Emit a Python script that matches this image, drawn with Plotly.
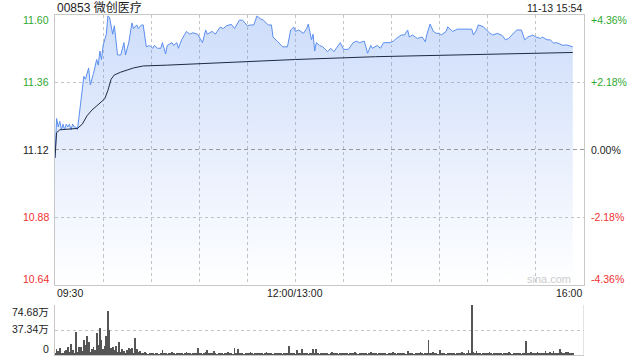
import plotly.graph_objects as go

# ---------------- data ----------------
title_text = "00853 微创医疗"
stamp_text = "11-13 15:54"

# (minute since 09:30 on the trading clock, price)
price_series = [
    (0, 11.09), (1, 11.23), (2, 11.20), (3, 11.22), (4, 11.19), (5, 11.21), (6, 11.19),
    (7, 11.21), (8, 11.20), (9, 11.21), (10, 11.19), (11, 11.21), (12, 11.20), (13, 11.20),
    (14, 11.19), (15, 11.24), (16, 11.30), (17, 11.34), (18, 11.38), (19, 11.37), (21, 11.41),
    (22, 11.35), (24, 11.39), (26, 11.44), (27, 11.42), (28, 11.47), (29, 11.44), (30, 11.49),
    (32, 11.53), (33, 11.595), (34, 11.59), (36, 11.53), (37, 11.56), (38, 11.51), (39, 11.456),
    (41, 11.456), (43, 11.50), (44, 11.456), (46, 11.50), (48, 11.57), (49, 11.55), (51, 11.563),
    (52, 11.55), (54, 11.563), (55, 11.563), (57, 11.485), (59, 11.49), (61, 11.48), (62, 11.49),
    (64, 11.48), (66, 11.48), (67, 11.50), (69, 11.46), (70, 11.49), (73, 11.50), (74, 11.49),
    (76, 11.50), (77, 11.48), (79, 11.51), (81, 11.53), (82, 11.54), (84, 11.53), (86, 11.535),
    (89, 11.53), (90, 11.52), (92, 11.50), (94, 11.545), (95, 11.53), (98, 11.54), (100, 11.53),
    (103, 11.555), (105, 11.55), (107, 11.56), (110, 11.565), (112, 11.55), (115, 11.58),
    (117, 11.58), (120, 11.56), (122, 11.563), (124, 11.563), (126, 11.595), (128, 11.585),
    (130, 11.58), (133, 11.563), (135, 11.563), (136, 11.52), (139, 11.503), (142, 11.485),
    (145, 11.485), (147, 11.545), (149, 11.555), (150, 11.54), (152, 11.545), (155, 11.533),
    (157, 11.55), (158, 11.566), (160, 11.51), (161, 11.53), (162, 11.47), (163, 11.50),
    (165, 11.49), (167, 11.485), (170, 11.468), (172, 11.48), (174, 11.468), (178, 11.50),
    (180, 11.476), (183, 11.476), (186, 11.50), (188, 11.505), (190, 11.50), (193, 11.505),
    (195, 11.462), (197, 11.49), (198, 11.48), (201, 11.49), (203, 11.48), (205, 11.50),
    (209, 11.50), (211, 11.505), (213, 11.515), (216, 11.527), (218, 11.527), (220, 11.545),
    (221, 11.52), (223, 11.527), (226, 11.515), (229, 11.52), (231, 11.503), (232, 11.53),
    (234, 11.566), (236, 11.54), (238, 11.533), (240, 11.533), (241, 11.527), (244, 11.54),
    (245, 11.556), (248, 11.54), (250, 11.545), (251, 11.548), (260, 11.548), (261, 11.527),
    (263, 11.545), (264, 11.563), (267, 11.557), (269, 11.545), (271, 11.535), (273, 11.527),
    (276, 11.533), (279, 11.525), (281, 11.51), (283, 11.515), (286, 11.535), (288, 11.545),
    (291, 11.545), (293, 11.51), (295, 11.52), (298, 11.527), (300, 11.52), (303, 11.515),
    (304, 11.52), (307, 11.51), (309, 11.51), (311, 11.498), (313, 11.50), (315, 11.495),
    (317, 11.49), (319, 11.492), (321, 11.488), (323, 11.485),
]

avg_series = [
    (0, 11.09), (1, 11.18), (3, 11.19), (14, 11.195), (17, 11.21), (20, 11.24), (23, 11.26),
    (27, 11.28), (31, 11.30), (33, 11.33), (35, 11.37), (37, 11.385), (41, 11.395), (49, 11.41),
    (55, 11.417), (70, 11.42), (90, 11.425), (120, 11.435), (150, 11.44), (200, 11.45),
    (240, 11.455), (280, 11.46), (323, 11.465),
]

# volume per minute (万), minute 0 .. 323
volume = [
    3, 8.5, 6, 10, 2.5, 3.5, 6, 7.5, 12.4, 4,
    16.4, 7.5, 3, 35, 5, 11.4, 12.4, 6, 23, 15,
    28, 20, 5, 8.5, 12.4, 7.5, 33, 15, 40, 23,
    8.5, 13.5, 28, 65, 38, 10, 11.4, 7.5, 13.5, 4,
    20, 5, 8.5, 6.5, 3, 7.5, 10, 8.5, 10, 3,
    25, 8.5, 5, 6, 3, 2, 4, 2, 1.5, 3,
    2, 2.5, 1.5, 3, 2, 1.5, 2, 7.5, 2, 3,
    1.5, 2.5, 2, 4, 2, 1.5, 3, 2, 2.5, 3,
    1.5, 2, 4, 2, 3, 1.5, 2, 3, 2, 10,
    2, 3, 1.5, 2, 4, 7.5, 2, 3, 2, 6,
    2, 1.5, 3, 2, 2.5, 1.5, 3, 2, 4, 2,
    3, 1.5, 10, 3, 8.5, 2, 3, 2, 1.5, 2.5,
    3, 2, 4, 2, 1.5, 3, 2, 2.5, 2, 3,
    1.5, 2, 4, 2, 3, 2, 1.5, 2.5, 3, 2,
    2, 3, 1.5, 2, 3, 2, 13.5, 2, 3, 2,
    1.5, 7.5, 3, 2, 8.5, 2, 3, 2, 1.5, 3,
    2, 8.5, 3, 8.5, 2, 1.5, 3, 2, 2.5, 2,
    3, 1.5, 2, 4, 2, 3, 2, 1.5, 2.5, 3,
    2, 2, 3, 1.5, 2, 3, 2, 4, 2, 1.5,
    3, 2, 2.5, 2, 3, 1.5, 2, 4, 2, 3,
    2, 1.5, 2.5, 3, 2, 2, 3, 1.5, 2, 3,
    2, 4, 2, 1.5, 3, 2, 2.5, 2, 3, 1.5,
    6, 2, 3, 2, 1.5, 2.5, 3, 2, 4, 2,
    1.5, 3, 2, 22, 3, 2, 4, 2, 3, 1.5,
    7.5, 2, 3, 2, 1.5, 2.5, 3, 2, 2, 3,
    1.5, 2, 3, 2, 4, 2, 1.5, 3, 7.5, 3,
    74.68, 4, 2, 6, 2, 3, 1.5, 2, 2.5, 3,
    2, 4, 2, 1.5, 3, 2, 2.5, 2, 3, 1.5,
    2, 3, 2, 4, 2, 1.5, 3, 2, 2.5, 3,
    2, 1.5, 3, 2, 21, 2, 3, 4, 2, 3,
    2, 4, 3, 2, 3, 2.5, 6, 3, 2, 4,
    2, 6, 3, 2, 3, 9, 4, 2, 3, 5,
    4.5, 3, 2, 3,
]

price_ticks = [10.64, 10.88, 11.12, 11.36, 11.60]
price_labels = ["10.64", "10.88", "11.12", "11.36", "11.60"]
pct_labels = ["-4.36%", "-2.18%", "0.00%", "+2.18%", "+4.36%"]
vol_ticks = [0, 37.34, 74.68]
vol_labels = ["0", "37.34万", "74.68万"]
session_minutes = 330
grid_minutes = [30, 60, 90, 120, 150, 180, 210, 240, 270, 300]
time_labels = ["09:30", "12:00/13:00", "16:00"]
time_minutes = [0, 150, 330]

# ---------------- figure ----------------
W, H = 640, 360
GREEN = "#2fa82f"
RED = "#f03030"
DARK = "#222222"
GRID = "#c4c4c4"
BORDER = "#c8c8c8"
FONT = "Arial, Liberation Sans, Noto Sans CJK SC, sans-serif"

px_x = [p[0] for p in price_series]
px_y = [p[1] for p in price_series]
av_x = [p[0] for p in avg_series]
av_y = [p[1] for p in avg_series]

fig = go.Figure()

# baseline for the filled area
fig.add_trace(go.Scatter(
    x=[px_x[0], px_x[-1]], y=[price_ticks[0], price_ticks[0]],
    mode="lines", line=dict(width=0), hoverinfo="skip", showlegend=False,
    xaxis="x", yaxis="y"))

# translucent gradient fill under the price line (grid shows through)
fig.add_trace(go.Scatter(
    x=px_x, y=px_y, mode="lines",
    line=dict(width=0),
    fill="tonexty",
    fillgradient=dict(type="vertical",
                      colorscale=[[0, "rgba(91,142,240,0.0)"], [1, "rgba(91,142,240,0.30)"]],
                      start=price_ticks[0], stop=price_ticks[-1]),
    hoverinfo="skip", showlegend=False, xaxis="x", yaxis="y"))

# previous close dashed line
fig.add_trace(go.Scatter(
    x=[0, session_minutes], y=[price_ticks[2], price_ticks[2]], mode="lines",
    line=dict(color="#9a9a9a", width=1, dash="4px,3px"),
    hoverinfo="skip", showlegend=False, xaxis="x", yaxis="y"))

# price line
fig.add_trace(go.Scatter(
    x=px_x, y=px_y, mode="lines", line=dict(color="#5b8ef0", width=1),
    hoverinfo="skip", showlegend=False, xaxis="x", yaxis="y"))

# average line
fig.add_trace(go.Scatter(
    x=av_x, y=av_y, mode="lines",
    line=dict(color="#1e2a45", width=1),
    hoverinfo="skip", showlegend=False, xaxis="x", yaxis="y"))

fig.add_trace(go.Bar(
    x=list(range(len(volume))), y=volume, width=0.5,
    marker=dict(color="#555555", line=dict(width=0)),
    hoverinfo="skip", showlegend=False, xaxis="x2", yaxis="y2"))

main_dom_x = [55 / W, 584 / W]
main_dom_y = [1 - 284.5 / H, 1 - 14.5 / H]
vol_dom_y = [1 - 355 / H, 1 - 305 / H]

axis_common = dict(showticklabels=False, ticks="", zeroline=False, fixedrange=True)
grid_style = dict(showgrid=True, gridcolor=GRID, griddash="dot", gridwidth=1)

fig.update_layout(
    width=W, height=H,
    margin=dict(l=0, r=0, t=0, b=0),
    paper_bgcolor="white", plot_bgcolor="rgba(0,0,0,0)",
    bargap=0,
    xaxis=dict(domain=main_dom_x, range=[0, session_minutes], tickvals=grid_minutes,
               showline=True, linecolor=BORDER, linewidth=1, mirror=True,
               anchor="y", **grid_style, **axis_common),
    yaxis=dict(domain=main_dom_y, range=[price_ticks[0], price_ticks[-1]],
               tickvals=[price_ticks[1], price_ticks[3]],
               showline=True, linecolor=BORDER, linewidth=1, mirror=True,
               anchor="x", **grid_style, **axis_common),
    xaxis2=dict(domain=main_dom_x, range=[0, session_minutes], showgrid=False,
                showline=True, linecolor=BORDER, linewidth=1, mirror=False,
                anchor="y2", **axis_common),
    yaxis2=dict(domain=vol_dom_y, range=[0, vol_ticks[-1]], tickvals=vol_ticks[1:],
                showline=True, linecolor=BORDER, linewidth=1, mirror=False,
                anchor="x2", **grid_style, **axis_common),
    font=dict(family=FONT, color=DARK),
)

# right border of volume panel
fig.add_shape(type="line", xref="x2", yref="y2", x0=session_minutes, x1=session_minutes,
              y0=0, y1=vol_ticks[-1], line=dict(color=BORDER, width=1))

colors = [RED, RED, DARK, GREEN, GREEN]
shifts = [6, 0, 0, 0, -6]
ann = []
for v, lab, pct, c, s in zip(price_ticks, price_labels, pct_labels, colors, shifts):
    ann.append(dict(xref="paper", yref="y", x=51 / W, y=v, text=lab, showarrow=False,
                    xanchor="right", yanchor="middle", yshift=s,
                    font=dict(size=10.5, color=c, family=FONT)))
    ann.append(dict(xref="paper", yref="y", x=589 / W, y=v, text=pct, showarrow=False,
                    xanchor="left", yanchor="middle", yshift=s,
                    font=dict(size=10.5, color=c, family=FONT)))

vshifts = [6, 1, -7]
for v, lab, s in zip(vol_ticks, vol_labels, vshifts):
    ann.append(dict(xref="paper", yref="y2", x=51 / W, y=v, text=lab, showarrow=False,
                    xanchor="right", yanchor="middle", yshift=s,
                    font=dict(size=10.5, color=DARK, family=FONT)))

anchors = ["left", "center", "right"]
for m, lab, a in zip(time_minutes, time_labels, anchors):
    ann.append(dict(xref="x", yref="paper", x=m, y=1 - 293 / H, text=lab, showarrow=False,
                    xanchor=a, yanchor="middle",
                    font=dict(size=10.5, color=DARK, family=FONT)))

ann.append(dict(xref="paper", yref="paper", x=55 / W, y=1 - 8 / H, text=title_text,
                showarrow=False, xanchor="left", yanchor="middle",
                font=dict(size=12, color=DARK, family=FONT)))
ann.append(dict(xref="paper", yref="paper", x=584 / W, y=1 - 8 / H, text=stamp_text,
                showarrow=False, xanchor="right", yanchor="middle",
                font=dict(size=10.5, color=DARK, family=FONT)))
ann.append(dict(xref="paper", yref="paper", x=573 / W, y=1 - 279 / H, text="sina.com",
                showarrow=False, xanchor="right", yanchor="middle",
                font=dict(size=11, color="#cccccc", family=FONT)))

fig.update_layout(annotations=ann)

fig.write_html("out.html")
